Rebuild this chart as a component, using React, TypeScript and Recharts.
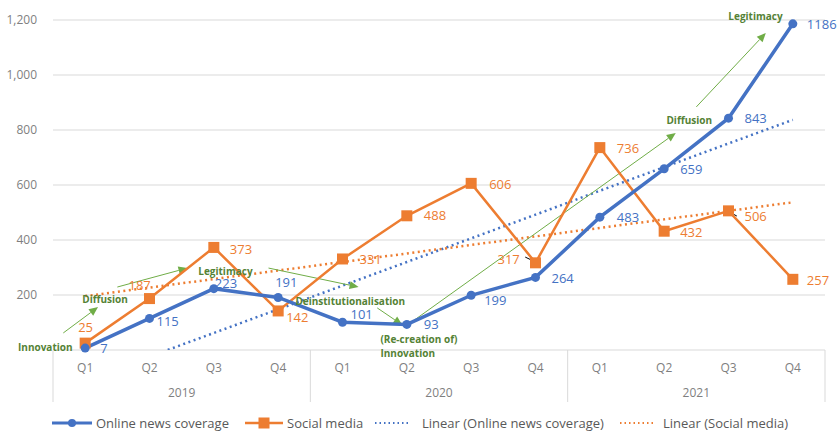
import {
  LineChart,
  Line,
  XAxis,
  YAxis,
  CartesianGrid,
  Legend,
  LabelList,
  ReferenceLine,
  ReferenceDot,
} from 'recharts'

const quarterLabels = ['Q1', 'Q2', 'Q3', 'Q4', 'Q1', 'Q2', 'Q3', 'Q4', 'Q1', 'Q2', 'Q3', 'Q4']
const years = ['2019', '2020', '2021']
const onlineNews = [7, 115, 223, 191, 101, 93, 199, 264, 483, 659, 843, 1186]
const socialMedia = [25, 187, 373, 142, 331, 488, 606, 317, 736, 432, 506, 257]
// trend lines (dotted)
const onlineTrend = [-110, -24, 62, 148, 234, 320, 406, 492, 579, 665, 751, 837]
const socialTrend = [196, 227, 258, 289, 320, 351, 382, 413, 444, 475, 506, 537]
const yTicks = [0, 200, 400, 600, 800, 1000, 1200]

// stage annotations, in chart units (quarter index, value)
const stageArrows = [
  { from: [0.66, 62], to: [1.2, 156] },
  { from: [1.5, 229], to: [2.59, 298] },
  { from: [3.85, 298], to: [5.25, 229] },
  { from: [5.54, 153], to: [5.93, 91] },
  { from: [6.01, 91], to: [10.18, 789] },
  { from: [10.5, 884], to: [11.58, 1153] },
]
const stageLabels = [
  { text: 'Innovation', x: 0.38, y: 10, anchor: 'middle' },
  { text: 'Diffusion', x: 1.31, y: 185, anchor: 'middle' },
  { text: 'Legitimacy', x: 3.18, y: 287, anchor: 'middle' },
  { text: 'Deinstitutionalisation', x: 5.12, y: 178, anchor: 'middle' },
  { text: '(Re-creation of)', x: 5.59, y: 40, anchor: 'start' },
  { text: 'Innovation', x: 5.59, y: -11, anchor: 'start' },
  { text: 'Diffusion', x: 10.39, y: 836, anchor: 'middle' },
  { text: 'Legitimacy', x: 11.42, y: 1211, anchor: 'middle' },
]
const leaderMarks = [
  { from: [7.84, 338], to: [8.0, 320] },
  { from: [11.01, 502], to: [11.13, 487] },
]

// label offsets from each point: [dx to text left, dy to text middle]
const onlineLabelOffsets = [[15, 0], [7, 3], [1, -5], [-3, -15], [8, -8], [17, 0], [13, 5], [16, 1], [17, 0], [16, 1], [16, 0], [14, 1]]
const socialLabelOffsets = [[-7, -16], [-21, -13], [16, 2], [8, 6], [17, 0], [17, 0], [18, 1], [-38, -3], [17, 1], [16, 1], [16, 6], [14, 1]]

const BLUE = '#4472C4'
const ORANGE = '#ED7D31'
const GREEN = '#70AD47'
const GREEN_TEXT = '#548235'
const AXIS_TEXT = '#7f7f7f'
const GRID = '#d9d9d9'

const chartData = quarterLabels.map((q, i) => ({
  pos: i + 1,
  quarter: q,
  online: onlineNews[i],
  social: socialMedia[i],
  onlineTrend: onlineTrend[i],
  socialTrend: socialTrend[i],
}))

const xTicks: number[] = []
for (let i = 0; i < 12; i++) xTicks.push(i + 1)
for (let y = 0; y < years.length; y++) xTicks.push(y * 4 + 2.5)
for (let y = 0; y <= years.length; y++) xTicks.push(y * 4 + 0.5)
xTicks.sort((a, b) => a - b)

function XTick({ x, y, payload }: any) {
  const v = payload.value
  if (Number.isInteger(v)) {
    return (
      <text x={x} y={y + 21.5} textAnchor="middle" fill={AXIS_TEXT} fontSize={12}>
        {quarterLabels[v - 1]}
      </text>
    )
  }
  if ((v - 0.5) % 4 === 0) {
    return <line x1={x} x2={x} y1={y} y2={y + 52} stroke={GRID} strokeWidth={1} />
  }
  return (
    <text x={x} y={y + 47} textAnchor="middle" fill={AXIS_TEXT} fontSize={12}>
      {years[(v - 2.5) / 4]}
    </text>
  )
}

function makeLabel(offsets: number[][], color: string) {
  return (props: any) => {
    const { x, y, value, index } = props
    const off = offsets[index] || [14, 0]
    return (
      <text x={x + off[0]} y={y + off[1]} dy="0.35em" fill={color} fontSize={13} textAnchor="start">
        {value}
      </text>
    )
  }
}

function SquareDot(props: any) {
  const { cx, cy, index } = props
  return <rect key={index} x={cx - 5.5} y={cy - 5.5} width={11} height={11} fill={ORANGE} />
}

function Arrow({ x1, y1, x2, y2 }: any) {
  const ang = Math.atan2(y2 - y1, x2 - x1)
  const len = 9
  const w = 4
  const bx = x2 - len * Math.cos(ang)
  const by = y2 - len * Math.sin(ang)
  const px = -Math.sin(ang) * w
  const py = Math.cos(ang) * w
  return (
    <g>
      <line x1={x1} y1={y1} x2={bx} y2={by} stroke={GREEN} strokeWidth={1} />
      <polygon points={`${x2},${y2} ${bx + px},${by + py} ${bx - px},${by - py}`} fill={GREEN} />
    </g>
  )
}

function LegendIcon({ kind }: { kind: string }) {
  if (kind === 'online') {
    return (
      <svg width={40} height={12}>
        <line x1={0} x2={40} y1={6} y2={6} stroke={BLUE} strokeWidth={3} />
        <circle cx={20} cy={6} r={4} fill={BLUE} />
      </svg>
    )
  }
  if (kind === 'social') {
    return (
      <svg width={38} height={12}>
        <line x1={0} x2={38} y1={6} y2={6} stroke={ORANGE} strokeWidth={2.5} />
        <rect x={13.5} y={0.5} width={11} height={11} fill={ORANGE} />
      </svg>
    )
  }
  const c = kind === 'onlineTrend' ? BLUE : ORANGE
  return (
    <svg width={40} height={12}>
      <line x1={3} x2={38} y1={6} y2={6} stroke={c} strokeWidth={2} strokeDasharray="1.5 3" />
    </svg>
  )
}

// legend layout (pixel lefts of each entry and gap to its text)
const legendItems = [
  { kind: 'online', text: 'Online news coverage', left: 52, gap: 4 },
  { kind: 'social', text: 'Social media', left: 245, gap: 4 },
  { kind: 'onlineTrend', text: 'Linear (Online news coverage)', left: 372, gap: 10 },
  { kind: 'socialTrend', text: 'Linear (Social media)', left: 617, gap: 6 },
]

function ChartLegend() {
  return (
    <div style={{ position: 'relative', height: 29, fontSize: 13, lineHeight: '14px', color: '#595959' }}>
      {legendItems.map((it) => (
        <div
          key={it.kind}
          style={{ position: 'absolute', left: it.left, top: 14, height: 14, display: 'flex', alignItems: 'center', gap: it.gap, whiteSpace: 'nowrap' }}
        >
          <LegendIcon kind={it.kind} />
          <span>{it.text}</span>
        </div>
      ))}
    </div>
  )
}

export default function App() {
  return (
    <div style={{ position: 'absolute', left: 0, top: 0, fontFamily: '"Open Sans", sans-serif', background: '#fff' }}>
      <LineChart width={838} height={431} data={chartData} margin={{ top: 20, right: 13, left: 8, bottom: 0 }}>
        <CartesianGrid vertical={false} stroke={GRID} strokeWidth={1} />
        <XAxis
          dataKey="pos"
          type="number"
          domain={[0.5, 12.5]}
          ticks={xTicks}
          interval={0}
          tick={<XTick />}
          tickLine={false}
          axisLine={false}
          tickSize={0}
          tickMargin={0}
          height={52}
        />
        <YAxis
          domain={[0, 1200]}
          ticks={yTicks}
          allowDataOverflow
          width={45}
          axisLine={false}
          tickLine={false}
          tickSize={0}
          tickMargin={16}
          tick={{ fill: AXIS_TEXT, fontSize: 12 }}
          tickFormatter={(v: number) => (v === 0 ? '' : v.toLocaleString('en-US'))}
        />
        <Legend verticalAlign="bottom" content={<ChartLegend />} wrapperStyle={{ left: 0, width: 838 }} />
        <Line
          dataKey="onlineTrend"
          stroke={BLUE}
          strokeWidth={2.5}
          strokeDasharray="2 3.5"
          dot={false}
          activeDot={false}
          isAnimationActive={false}
        />
        <Line
          dataKey="socialTrend"
          stroke={ORANGE}
          strokeWidth={2.5}
          strokeDasharray="2 3.5"
          dot={false}
          activeDot={false}
          isAnimationActive={false}
        />
        {stageArrows.map((a, i) => (
          <ReferenceLine
            key={'arrow' + i}
            segment={[{ x: a.from[0], y: a.from[1] }, { x: a.to[0], y: a.to[1] }]}
            ifOverflow="visible"
            shape={(p: any) => <Arrow {...p} />}
          />
        ))}
        {leaderMarks.map((m, i) => (
          <ReferenceLine
            key={'lead' + i}
            segment={[{ x: m.from[0], y: m.from[1] }, { x: m.to[0], y: m.to[1] }]}
            ifOverflow="visible"
            stroke="#000"
            strokeWidth={1}
          />
        ))}
        {stageLabels.map((s, i) => (
          <ReferenceDot
            key={'stage' + i}
            x={s.x}
            y={s.y}
            r={0}
            ifOverflow="visible"
            shape={(p: any) => (
              <text x={p.cx} y={p.cy} dy="0.35em" textAnchor={s.anchor} fill={GREEN_TEXT} fontSize={10} fontWeight="bold">
                {s.text}
              </text>
            )}
          />
        ))}
        <Line
          dataKey="social"
          stroke={ORANGE}
          strokeWidth={2.5}
          dot={<SquareDot />}
          activeDot={false}
          isAnimationActive={false}
        >
          <LabelList dataKey="social" content={makeLabel(socialLabelOffsets, ORANGE)} />
        </Line>
        <Line
          dataKey="online"
          stroke={BLUE}
          strokeWidth={3.5}
          dot={{ r: 4.5, fill: BLUE, stroke: BLUE, strokeWidth: 0, clipDot: false }}
          activeDot={false}
          isAnimationActive={false}
        >
          <LabelList dataKey="online" content={makeLabel(onlineLabelOffsets, BLUE)} />
        </Line>
      </LineChart>
    </div>
  )
}
